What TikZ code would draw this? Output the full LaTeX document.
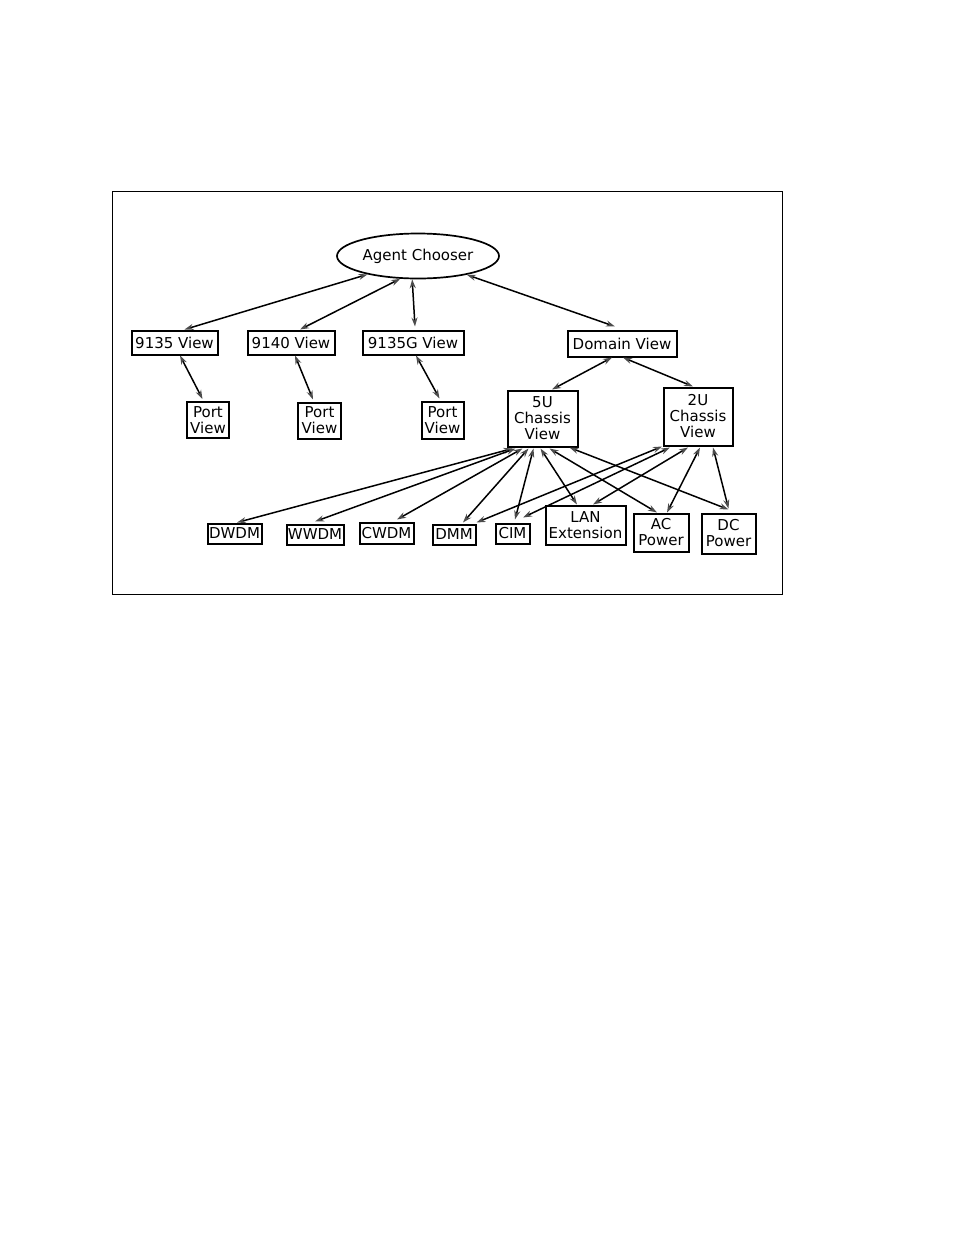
\documentclass[tikz,border=0pt]{standalone}
\usepackage{fontspec}
\setmainfont{DejaVu Sans}
\usetikzlibrary{shapes.geometric,arrows.meta}
\tikzset{
  box/.style={draw, line width=2pt, inner sep=0pt, align=center,
    font=\fontsize{15}{16}\selectfont},
  oval/.style={ellipse, draw, line width=1.7pt, inner sep=0pt,
    font=\fontsize{15}{16}\selectfont},
  tipx/.tip={Stealth[length=9pt,width=6pt,color=black!70,fill=black!70]},
  link/.style={line width=1.5pt, tipx-tipx},
  frame/.style={draw, line width=1pt}
}
\begin{document}
\begin{tikzpicture}[x=1pt,y=-1pt]
\useasboundingbox (0,0) rectangle (954,1235);
\draw[frame] (112,191) rectangle (782,594);

\node[oval, minimum width=162pt, minimum height=45pt] (ac) at (418,256) {Agent Chooser};

\node[box, minimum width=86pt, minimum height=24pt] (v9135) at (174.5,342.5) {9135 View};
\node[box, minimum width=87pt, minimum height=24pt] (v9140) at (291,342.5) {9140 View};
\node[box, minimum width=101pt, minimum height=24pt] (v9135g) at (413,342.5) {9135G View};
\node[box, minimum width=109pt, minimum height=26pt] (domain) at (622,343.5) {Domain View};

\node[box, minimum width=42pt, minimum height=36pt] (port1) at (208,420) {Port\\View};
\node[box, minimum width=43pt, minimum height=36pt] (port2) at (319.5,420.5) {Port\\View};
\node[box, minimum width=42pt, minimum height=37pt] (port3) at (442.5,420) {Port\\View};

\node[box, minimum width=70pt, minimum height=56pt] (n5u) at (542.5,418.5) {5U\\Chassis\\View};
\node[box, minimum width=69pt, minimum height=58pt] (n2u) at (698,416.5) {2U\\Chassis\\View};

\node[box, minimum width=54pt, minimum height=20pt] (dwdm) at (234.5,533.5) {DWDM};
\node[box, minimum width=57pt, minimum height=20pt] (wwdm) at (315,534.5) {WWDM};
\node[box, minimum width=54pt, minimum height=21pt] (cwdm) at (386.5,533) {CWDM};
\node[box, minimum width=43pt, minimum height=20pt] (dmm) at (454,534.5) {DMM};
\node[box, minimum width=34pt, minimum height=20pt] (cim) at (512.5,533.5) {CIM};
\node[box, minimum width=80pt, minimum height=39pt] (lan) at (585.5,525) {LAN\\Extension};
\node[box, minimum width=55pt, minimum height=38pt] (acp) at (661,532.5) {AC\\Power};
\node[box, minimum width=54pt, minimum height=40pt] (dcp) at (728.5,533.5) {DC\\Power};

% Agent Chooser links
\draw[link] (ac.200) -- ([xshift=10pt]v9135.north);
\draw[link] (ac.232) -- ([xshift=9pt]v9140.north);
\draw[link] (ac.256) -- ([xshift=2pt,yshift=3pt]v9135g.north);
\draw[link] (ac.339) -- ([xshift=-7pt,yshift=3pt]domain.north);

% Port views
\draw[link] ([xshift=5.5pt]v9135.south) -- ([xshift=-5.5pt,yshift=2pt]port1.north);
\draw[link] ([xshift=4pt]v9140.south) -- ([xshift=-6.5pt,yshift=2pt]port2.north);
\draw[link] ([xshift=3pt]v9135g.south) -- ([xshift=-3pt,yshift=2pt]port3.north);

% Domain view
\draw[link] ([xshift=-10pt]domain.south) -- ([xshift=9.5pt]n5u.north);
\draw[link] ([xshift=1pt]domain.south) -- ([xshift=-5pt]n2u.north);

% 5U chassis
\draw[link] ([xshift=-30pt,yshift=-1pt]n5u.south) -- ([xshift=2.5pt]dwdm.north);
\draw[link] ([xshift=-27pt,yshift=-1pt]n5u.south) -- ([xshift=0pt,yshift=2pt]wwdm.north);
\draw[link] ([xshift=-20pt,yshift=-1pt]n5u.south) -- ([xshift=10.5pt,yshift=2pt]cwdm.north);
\draw[link] ([xshift=-14pt,yshift=-1pt]n5u.south) -- ([xshift=9pt,yshift=1pt]dmm.north);
\draw[link] ([xshift=-9pt,yshift=-1pt]n5u.south) -- ([xshift=2.5pt,yshift=3pt]cim.north);
\draw[link] ([xshift=-2pt,yshift=-1pt]n5u.south) -- ([xshift=-8.5pt]lan.north);
\draw[link] ([xshift=7pt,yshift=-1pt]n5u.south) -- ([xshift=-4pt]acp.north);
\draw[link] ([xshift=27pt]n5u.south) -- ([xshift=0pt,yshift=3pt]dcp.north);

% 2U chassis
\draw[link] ([xshift=-36pt]n2u.south) -- ([yshift=1pt]dmm.north east);
\draw[link] ([xshift=-28pt,yshift=-1pt]n2u.south) -- ([xshift=10.5pt,yshift=5pt]cim.north);
\draw[link] ([xshift=-10pt,yshift=-1pt]n2u.south) -- ([xshift=7.5pt]lan.north);
\draw[link] ([xshift=2pt,yshift=-1pt]n2u.south) -- ([xshift=6pt]acp.north);
\draw[link] ([xshift=15pt,yshift=-1pt]n2u.south) -- ([xshift=0pt,yshift=4pt]dcp.north);
\end{tikzpicture}
\end{document}
